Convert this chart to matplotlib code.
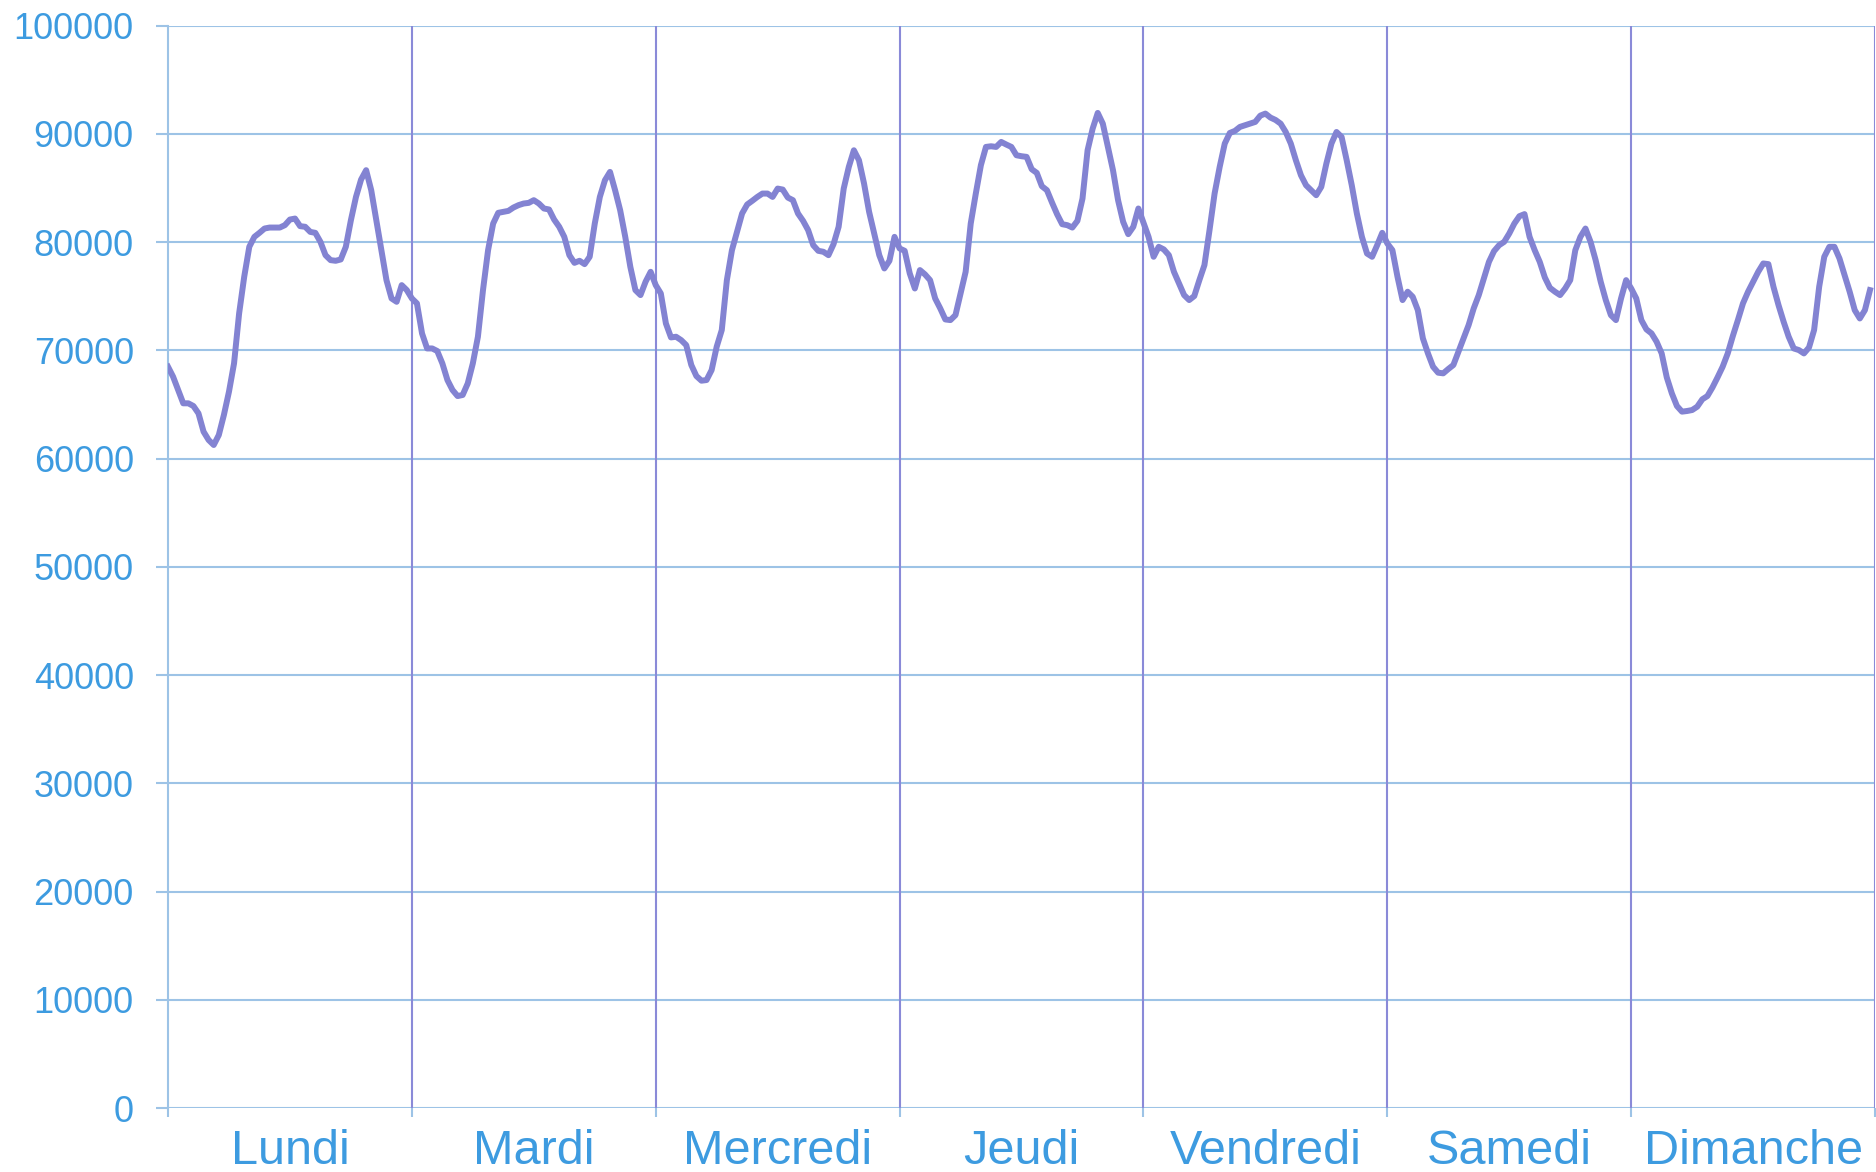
import numpy as np
import matplotlib
matplotlib.use('Agg')
import matplotlib.pyplot as plt

# Half-hourly consumption, one list per day (48 values each)
days = ['Lundi', 'Mardi', 'Mercredi', 'Jeudi', 'Vendredi', 'Samedi', 'Dimanche']

lundi = [68490, 67570, 66340, 65110, 65110, 64860, 64180, 62490, 61720, 61260,
         62180, 64030, 66180, 68800, 73420, 76800, 79570, 80490, 80860, 81260,
         81350, 81350, 81350, 81570, 82090, 82180, 81480, 81420, 80950, 80860,
         80030, 78800, 78340, 78280, 78400, 79570, 82030, 84180, 85780, 86650,
         84800, 82030, 79260, 76490, 74800, 74490, 76030, 75570]
mardi = [74800, 74340, 71570, 70180, 70180, 69940, 68800, 67260, 66340, 65780,
         65880, 66950, 68800, 71260, 75570, 79260, 81720, 82710, 82800, 82890,
         83200, 83420, 83570, 83630, 83880, 83570, 83110, 83020, 82090, 81420,
         80490, 78800, 78090, 78280, 77970, 78650, 81720, 84180, 85720, 86490,
         84800, 82950, 80490, 77720, 75570, 75110, 76340, 77260]
mercredi = [76030, 75260, 72490, 71200, 71260, 70950, 70490, 68650, 67630, 67200,
            67260, 68180, 70340, 71880, 76490, 79260, 80950, 82650, 83480, 83820,
            84180, 84490, 84490, 84180, 84950, 84860, 84120, 83880, 82650, 81970,
            81110, 79720, 79200, 79110, 78800, 79820, 81420, 84950, 86950, 88490,
            87570, 85420, 82800, 80800, 78800, 77570, 78280, 80490]
jeudi = [79420, 79200, 77110, 75720, 77420, 77020, 76490, 74800, 73880, 72860,
         72800, 73260, 75260, 77260, 81720, 84490, 87110, 88800, 88860, 88800,
         89260, 89020, 88800, 88030, 87940, 87880, 86740, 86400, 85170, 84800,
         83660, 82580, 81660, 81570, 81350, 81970, 84030, 88490, 90490, 91940,
         90950, 88800, 86650, 83880, 81880, 80740, 81420, 83110]
vendredi = [81790, 80490, 78650, 79570, 79330, 78800, 77260, 76180, 75110, 74650,
            75020, 76490, 77880, 81110, 84490, 86950, 89110, 90090, 90280, 90650,
            90800, 90950, 91110, 91690, 91880, 91510, 91290, 90950, 90180, 89110,
            87570, 86180, 85260, 84800, 84340, 85110, 87260, 89110, 90180, 89720,
            87570, 85260, 82650, 80490, 78950, 78650, 79720, 80860]
samedi = [79880, 79260, 76800, 74650, 75420, 74950, 73720, 71110, 69720, 68490,
          67940, 67880, 68280, 68650, 69880, 71110, 72340, 73880, 75110, 76650,
          78180, 79170, 79720, 80030, 80800, 81720, 82400, 82590, 80490, 79260,
          78180, 76740, 75780, 75420, 75110, 75720, 76490, 79260, 80490, 81260,
          80030, 78340, 76340, 74650, 73260, 72800, 74800, 76490]
dimanche = [75720, 74800, 72800, 71940, 71570, 70800, 69720, 67510, 66030, 64860,
            64340, 64400, 64490, 64800, 65480, 65780, 66580, 67510, 68490, 69720,
            71320, 72800, 74340, 75420, 76340, 77260, 78030, 77970, 75880, 74180,
            72650, 71260, 70180, 70030, 69720, 70270, 71880, 75880, 78650, 79570,
            79570, 78490, 76950, 75420, 73720, 72950, 73720, 75570]

y_ticks = list(range(0, 100001, 10000))

values = lundi + mardi + mercredi + jeudi + vendredi + samedi + dimanche
x = np.arange(len(values)) / 48.0

label_col = '#3d9be0'
grid_col = '#9dc3e6'
day_col = '#8a8ad8'
line_col = '#8383d2'

plt.rcParams['font.family'] = ['Liberation Sans', 'DejaVu Sans']

fig = plt.figure(figsize=(18.76, 11.72), dpi=100)
ax = fig.add_axes([168 / 1876, 1 - 1108 / 1172, 1 - 168 / 1876 - 0.0005, (1108 - 25.7) / 1172])

# horizontal grid
for yv in y_ticks:
    ax.axhline(yv, color=grid_col, lw=1.5, zorder=1)
# day separators
for d in range(1, 8):
    ax.axvline(d, color=day_col, lw=1.5, zorder=1)

ax.plot(x, values, color=line_col, lw=4.3, solid_joinstyle='round', zorder=3)

ax.set_xlim(0, 7)
ax.set_ylim(0, 100000)

for side in ['top', 'right', 'bottom']:
    ax.spines[side].set_visible(False)
ax.spines['left'].set_color(grid_col)
ax.spines['left'].set_linewidth(1.5)

ax.set_yticks(y_ticks)
ax.set_yticklabels([str(v) for v in y_ticks])
ax.tick_params(axis='y', colors=grid_col, labelcolor=label_col, labelsize=26,
               length=8.6, width=1.5, pad=16)

ax.set_xticks(range(0, 8))
ax.set_xticklabels([])
ax.set_xticks([d + 0.5 for d in range(7)], minor=True)
ax.set_xticklabels(days, minor=True)
ax.tick_params(axis='x', which='major', colors=grid_col, length=6.5, width=1.5)
ax.tick_params(axis='x', which='minor', length=0, labelcolor=label_col,
               labelsize=35, pad=15)

fig.savefig('out.png', dpi=100)
